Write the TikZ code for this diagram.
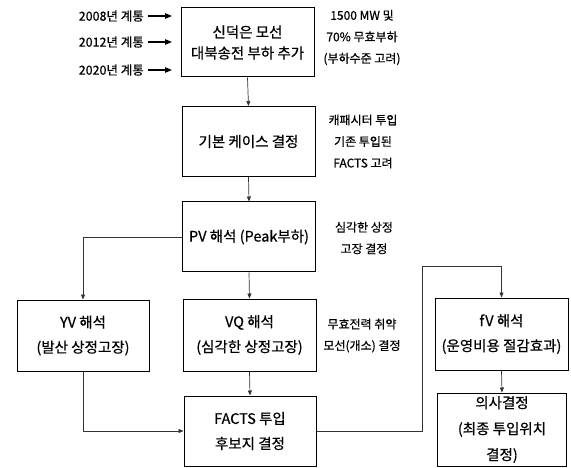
\documentclass[tikz,border=0pt]{standalone}
\usepackage{fontspec}
\setmainfont{Noto Sans CJK KR}[FakeBold=0.6]
\usetikzlibrary{arrows.meta}
\begin{document}
\begin{tikzpicture}[x=1pt,y=-1pt,
  box/.style={draw, line width=1pt, align=center, inner sep=0pt,
    minimum width=133pt, minimum height=70pt,
    font=\fontsize{14.5}{25}\selectfont},
  note/.style={align=center, inner sep=0pt, font=\fontsize{12}{21.5}\selectfont},
  year/.style={anchor=east, inner sep=0pt, font=\fontsize{12.5}{14}\selectfont},
  conn/.style={line width=0.7pt, draw=black!80, -{Triangle[length=5pt,width=4pt]}},
  yarrow/.style={line width=1.1pt, -{Triangle[length=7pt,width=5.5pt]}}
]
\useasboundingbox (0,0) rectangle (571,468);

% main boxes
\node[box, minimum height=69pt] (b1) at (247.5,42.5) {신덕은 모선\\[-4pt]대북송전 부하 추가};
\node[box] (b2) at (248.5,141.5) {기본 케이스 결정};
\node[box] (pv) at (249,237) {PV 해석 (Peak부하)};
\node[box, minimum width=132pt, minimum height=71pt] (yv) at (83,335.5) {YV 해석\\(발산 상정고장)};
\node[box, minimum height=72pt] (vq) at (249.5,335) {VQ 해석\\(심각한 상정고장)};
\node[box, minimum width=132pt, minimum height=70pt] (facts) at (250,431) {FACTS 투입\\후보지 결정};
\node[box, minimum height=72pt] (fv) at (501.5,334) {fV 해석\\(운영비용 절감효과)};
\node[box, minimum width=129pt, minimum height=73pt] (dec) at (502,429.5) {의사결정\\[1pt](최종 투입위치\\[1pt]결정)};

% year inputs
\node[year] (y1) at (144,16) {2008년 계통};
\node[year] (y2) at (144,42) {2012년 계통};
\node[year] (y3) at (144,70) {2020년 계통};
\coordinate (t1) at (172,16);
\coordinate (t2) at (172,42);
\coordinate (t3) at (172,70);
\draw[yarrow] ([xshift=4pt]y1.east) -- (t1);
\draw[yarrow] ([xshift=4pt]y2.east) -- (t2);
\draw[yarrow] ([xshift=4pt]y3.east) -- (t3);

% side notes
\node[note] (n1) at (362,37.5) {1500 MW 및\\70\% 무효부하\\(부하수준 고려)};
\node[note] (n2) at (363,141.5) {캐패시터 투입\\기존 투입된\\FACTS 고려};
\node[note] (n3) at (364,238) {심각한 상정\\고장 결정};
\node[note] (n4) at (362,335.5) {무효전력 취약\\모선(개소) 결정};

% connectors
\draw[conn] (b1.south) -- (b2.north);
\draw[conn] (b2.south) -- (pv.north);
\draw[conn] (pv.west) -| (yv.north);
\draw[conn] (pv.south) -- (vq.north);
\draw[conn] (vq.south) -- (facts.north);
\draw[conn] (yv.south) |- (facts.west);
\coordinate (k) at (422,266);
\draw[conn] (facts.east) -| (k) -| (fv.north);
\draw[conn] (fv.south) -- (dec.north);
\end{tikzpicture}
\end{document}
